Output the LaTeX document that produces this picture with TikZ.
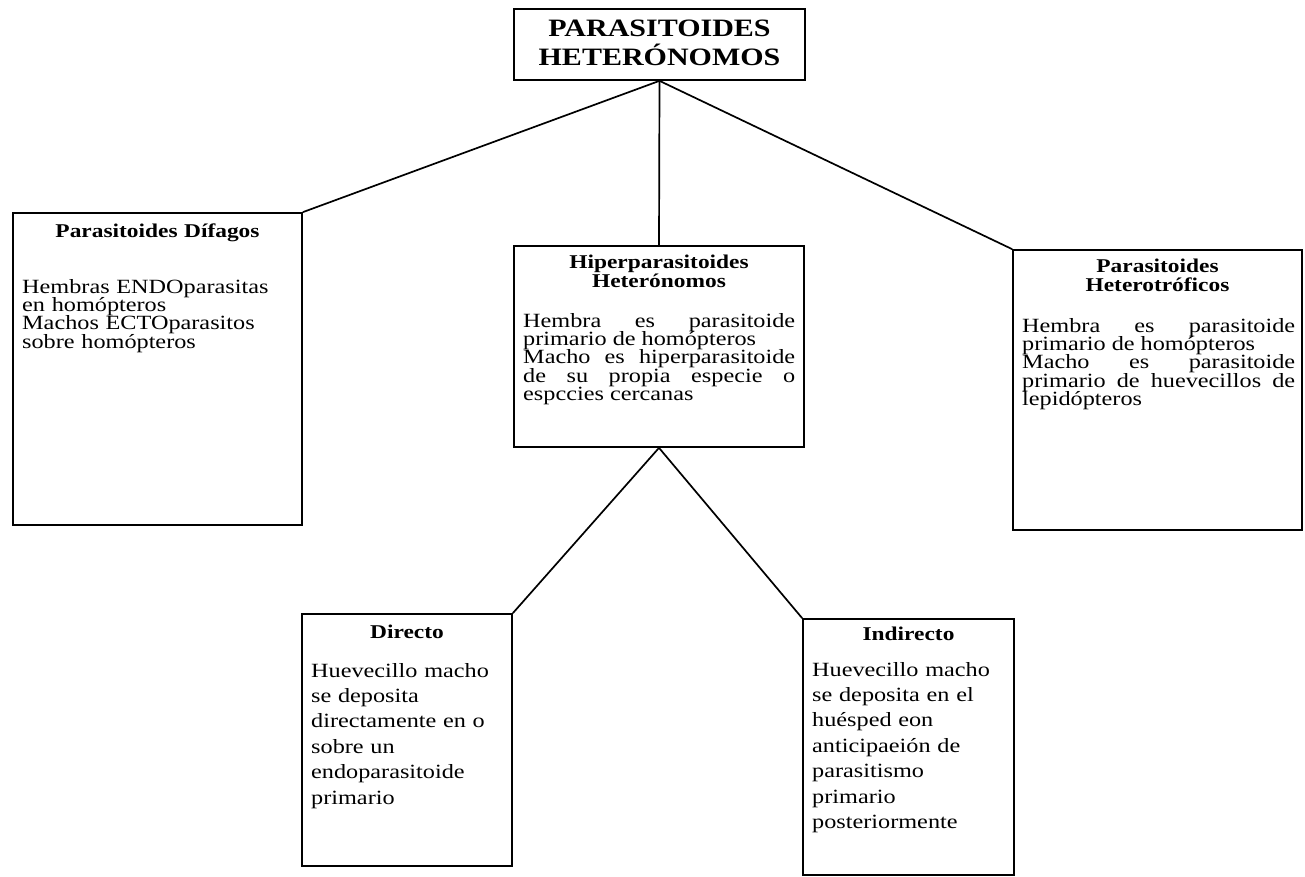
\documentclass[tikz,border=0pt]{standalone}
\usepackage{fontspec}
\setmainfont{Liberation Serif}[FakeStretch=1.2]
\newcommand\titlefont{\fontsize{25}{29}\selectfont\bfseries}
\newcommand\headfont{\fontsize{19.5}{20}\selectfont\bfseries}
\newcommand\bodyfont{\fontsize{20.2}{18.4}\selectfont}
\newcommand\lowfont{\fontsize{20.2}{25.4}\selectfont}
\tikzset{
  box/.style={draw=black, line width=1.7pt, rectangle, inner sep=0pt},
  conn/.style={draw=black, line width=1.7pt},
  head/.style={inner sep=0pt, anchor=base, text width=270pt, align=center, font=\headfont},
  body/.style={inner sep=0pt, anchor=base west, font=\bodyfont},
  lowbody/.style={inner sep=0pt, anchor=base west, text width=198pt, align=left, font=\lowfont}
}
\begin{document}
\begin{tikzpicture}[x=1pt,y=-1pt]
\useasboundingbox (0,0) rectangle (1305,877);
% boxes
\node[box, minimum width=291pt, minimum height=71pt] (top) at (659.5,44.5) {};
\node[box, minimum width=289pt, minimum height=312pt] (left) at (157.5,369) {};
\node[box, minimum width=290pt, minimum height=201pt] (mid) at (659,346.5) {};
\node[box, minimum width=289pt, minimum height=280pt] (right) at (1157.5,390) {};
\node[box, minimum width=210pt, minimum height=252pt] (dir) at (407,740) {};
\node[box, minimum width=211pt, minimum height=256pt] (ind) at (908.5,747) {};
% connectors
\draw[conn] (top.south) -- (left.north east);
\draw[conn] (top.south) -- (mid.north);
\draw[conn] (top.south) -- (right.north west);
\draw[conn] (mid.south) -- (dir.north east);
\draw[conn] (mid.south) -- (ind.north west);
% title
\node[inner sep=0pt, anchor=base, text width=285pt, align=center, font=\titlefont] (ttl) at (659.5,37) {PARASITOIDES\\HETERÓNOMOS};
% left box
\node[head] (lh) at (157.5,237) {Parasitoides Dífagos};
\node[body, text width=275pt, align=left] (lb) at (22,293) {Hembras ENDOparasitas\\en homópteros\\Machos ECTOparasitos\\sobre homópteros};
% middle box
\node[head] (mh) at (659,268) {Hiperparasitoides\\Heterónomos};
\node[body, text width=272pt, align=justify] (mb) at (523,327) {Hembra es parasitoide\linebreak primario de homópteros\newline Macho es hiperparasitoide\linebreak de su propia especie o\linebreak espccies cercanas};
% right box
\node[head] (rh) at (1157.5,272) {Parasitoides\\Heterotróficos};
\node[body, text width=273pt, align=justify] (rb) at (1022,332) {Hembra es parasitoide\linebreak primario de homópteros\newline Macho es parasitoide\linebreak primario de huevecillos de\linebreak lepidópteros};
% directo
\node[head, text width=190pt] (dh) at (407,638) {Directo};
\node[lowbody] (db) at (311,677) {Huevecillo macho\\se deposita\\directamente en o\\sobre un\\endoparasitoide\\primario};
% indirecto
\node[head, text width=190pt] (ih) at (908.5,640) {Indirecto};
\node[lowbody] (ib) at (812,676) {Huevecillo macho\\se deposita en el\\huésped eon\\anticipaeión de\\parasitismo\\primario\\posteriormente};
\end{tikzpicture}
\end{document}
